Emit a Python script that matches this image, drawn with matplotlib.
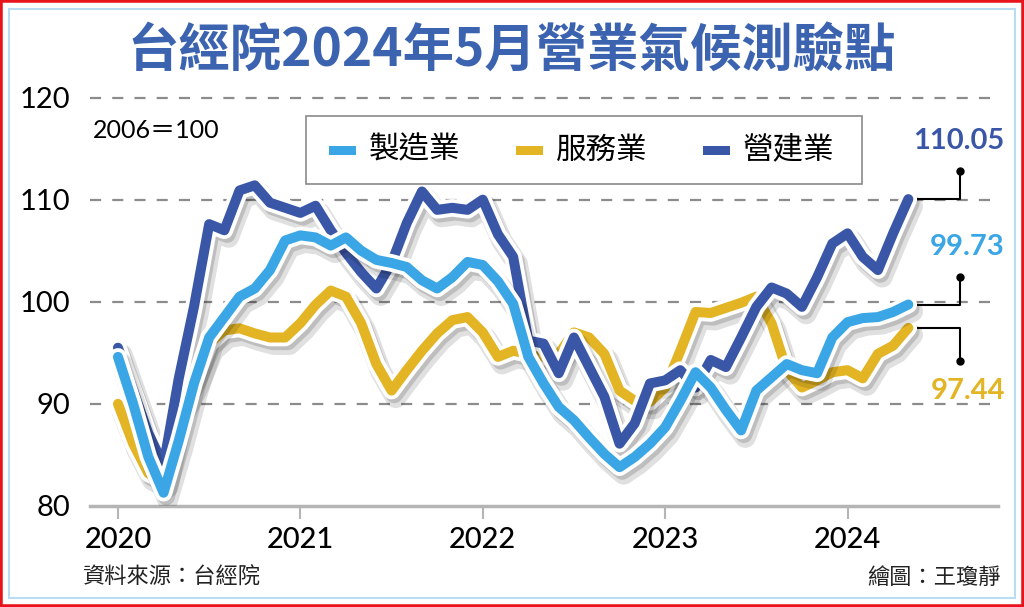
import matplotlib
matplotlib.use("Agg")
import matplotlib.pyplot as plt
import matplotlib.patheffects as pe
from matplotlib.patches import Rectangle
import numpy as np

plt.rcParams['font.family'] = ['Noto Sans CJK TC', 'DejaVu Sans']

# 月資料：2020年1月 ~ 2024年5月
years = ['2020', '2021', '2022', '2023', '2024']
manufacturing = [94.6, 90.0, 84.8, 81.3, 86.4, 92.0, 96.5, 98.5, 100.5, 101.3, 103.1, 106.0,
                 106.5, 106.3, 105.5, 106.3, 105.0, 104.1, 103.8, 103.4, 102.1, 101.3, 102.4, 103.9,
                 103.6, 102.0, 99.8, 94.6, 92.0, 89.7, 88.4, 86.7, 85.1, 83.8, 84.8, 86.1,
                 87.7, 90.3, 93.1, 91.6, 89.4, 87.4, 91.3, 92.6, 93.9, 93.3, 93.0, 96.5,
                 98.0, 98.4, 98.5, 99.0, 99.73]
services = [90.0, 86.1, 83.2, 82.5, 89.4, 92.3, 95.9, 97.2, 97.4, 96.9, 96.5, 96.5,
            97.9, 99.7, 101.1, 100.5, 97.9, 93.9, 91.3, 93.3, 95.2, 96.9, 98.2, 98.5,
            97.0, 94.6, 95.2, 94.9, 94.6, 94.9, 97.0, 96.5, 94.9, 91.3, 90.3, 90.2,
            91.6, 95.2, 99.0, 98.9, 99.4, 99.9, 100.5, 97.9, 93.3, 91.6, 92.3, 93.1,
            93.3, 92.5, 94.9, 95.7, 97.44]
construction = [95.5, 91.3, 87.1, 84.0, 92.5, 99.5, 107.6, 107.0, 110.9, 111.4, 109.7, 109.2,
                108.7, 109.4, 107.0, 104.8, 102.9, 101.3, 103.8, 107.7, 110.8, 109.0, 109.2, 109.0,
                110.0, 106.6, 104.4, 96.2, 95.9, 93.0, 96.5, 93.6, 90.7, 86.1, 88.1, 92.0,
                92.3, 93.3, 91.6, 94.3, 93.6, 96.5, 99.5, 101.4, 100.8, 99.5, 102.4, 105.7,
                106.7, 104.4, 103.1, 106.7, 110.05]
names = ['製造業', '服務業', '營建業']
colors = ['#3aa6e6', '#e3b423', '#3a56a6']

W, H = 1024, 607
fig = plt.figure(figsize=(W / 100, H / 100), dpi=100)
fx = lambda px: px / W
fy = lambda py: 1 - py / H

# 外框
fig.patches.append(Rectangle((0, 0), 1, 1, transform=fig.transFigure, fill=False,
                             edgecolor='#e8141c', lw=4, zorder=0))
fig.patches.append(Rectangle((fx(9), fy(598)), fx(1015) - fx(9), fy(9) - fy(598),
                             transform=fig.transFigure, fill=False, edgecolor='#b9dcf2', lw=1.5))

ax = fig.add_axes([fx(90), fy(506), fx(998) - fx(90), fy(88) - fy(506)])
months = np.arange(len(manufacturing))
ax.set_xlim(-1.84, 57.9)
ax.set_ylim(80, 120 + 10 / 10.2 * 0.95)

for v in [90, 100, 110, 120]:
    ax.axhline(v, color='#8c8c8c', lw=1.6, dashes=(5, 5), zorder=1)

for s in ['top', 'right', 'left']:
    ax.spines[s].set_visible(False)
ax.spines['bottom'].set_color('#b5b5b5')
ax.spines['bottom'].set_linewidth(2.5)

ax.set_yticks([80, 90, 100, 110, 120])
ax.set_yticklabels(['80', '90', '100', '110', '120'], family='Lato', fontsize=21)
ax.tick_params(axis='y', length=0, pad=14)
ax.set_xticks([0, 12, 24, 36, 48])
ax.set_xticklabels(years, family='Lato', fontsize=21, fontweight='medium')
ax.tick_params(axis='x', length=9, width=1.5, color='#b5b5b5', pad=6)

lw = 7.2
series = [services, construction, manufacturing]
cols = [colors[1], colors[2], colors[0]]
for i, (vals, c) in enumerate(zip(series, cols)):
    ax.plot(months, vals, color=c, lw=lw, solid_capstyle='round', solid_joinstyle='round',
            zorder=3 + i,
            path_effects=[pe.Stroke(offset=(3, -5), linewidth=lw + 8, foreground='#000000', alpha=0.12),
                          pe.Stroke(offset=(2, -3), linewidth=lw + 5, foreground='#000000', alpha=0.15),
                          pe.Stroke(linewidth=lw + 5.5, foreground='white'),
                          pe.Normal()])

# 末端標示
end_x = months[-1]
elbow_x = end_x + 3.4
label_x = end_x + 6.35
ends = [(construction[-1], 112.85, 'up', colors[2]),
        (manufacturing[-1], 102.45, 'up', colors[0]),
        (services[-1], 94.15, 'down', colors[1])]
for val, dot_y, d, c in ends:
    ax.plot([end_x + 0.3, elbow_x, elbow_x], [val, val, dot_y], color='black', lw=1.5,
            zorder=2, clip_on=False)
    ax.plot([elbow_x], [dot_y], 'o', color='black', ms=5, zorder=2, clip_on=False)
    ty = dot_y + 1.6 if d == 'up' else dot_y - 1.6
    ax.text(label_x, ty, f'{val:.2f}', color=c, fontsize=21, fontweight='bold', family='Lato',
            ha='right', va='bottom' if d == 'up' else 'top', clip_on=False)

# 圖例
fig.patches.append(Rectangle((fx(306), fy(184)), fx(862) - fx(306), fy(116) - fy(184),
                             transform=fig.transFigure, facecolor='white', edgecolor='#8a8a8a',
                             lw=1.2, zorder=10))
leg_patch_x = [329, 516, 703]
for px, name, c in zip(leg_patch_x, names, colors):
    fig.patches.append(Rectangle((fx(px), fy(155)), fx(27), 9 / H, transform=fig.transFigure,
                                 facecolor=c, edgecolor='none', zorder=11))
    fig.text(fx(px + 40), fy(150), name, fontsize=22, va='center', ha='left', zorder=12)

fig.text(fx(93), fy(130), '2006＝100', fontsize=18, family=['Lato', 'Noto Sans CJK TC'],
         va='center', ha='left')

fig.text(0.5, fy(50), '台經院2024年5月營業氣候測驗點', fontsize=37, fontweight='bold',
         color='#3c63b0', ha='center', va='center')
fig.text(fx(83), fy(577), '資料來源：台經院', fontsize=16, va='center', ha='left', color='#222222')
fig.text(fx(1001), fy(577), '繪圖：王瓊靜', fontsize=16, va='center', ha='right', color='#222222')

fig.savefig('out.png', dpi=100)
